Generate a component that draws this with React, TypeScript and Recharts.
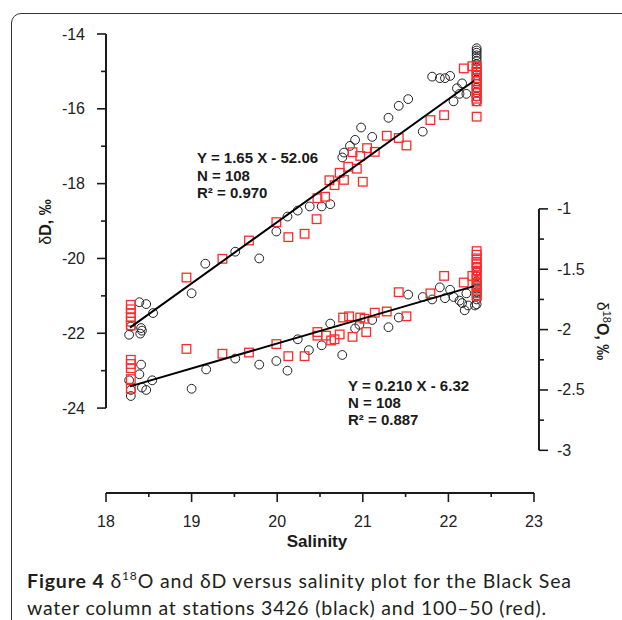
import { ScatterChart, Scatter, XAxis, YAxis, ReferenceLine } from "recharts";

// salinity axis and the two isotope axes
const salTicks = [18, 18.5, 19, 19.5, 20, 20.5, 21, 21.5, 22, 22.5, 23];
const dDTicks = [-24, -23, -22, -21, -20, -19, -18, -17, -16, -15, -14];
const dOTicks = [-3, -2.75, -2.5, -2.25, -2, -1.75, -1.5, -1.25, -1];

// δD vs salinity, station 3426 (black)
const dDBlack: [number, number][] = [
  [18.27, -22.04], [18.29, -21.82], [18.39, -21.17], [18.47, -21.22], [18.55, -21.46],
  [18.41, -21.86], [18.42, -21.93], [18.4, -22.01], [19.0, -20.93], [19.16, -20.14],
  [19.51, -19.82], [19.79, -20.0], [19.99, -19.28], [20.12, -18.88], [20.24, -18.72],
  [20.38, -18.61], [20.52, -18.61], [20.62, -18.55], [20.76, -17.3], [20.78, -17.17],
  [20.85, -16.99], [20.91, -16.83], [20.98, -16.5], [21.11, -16.75], [21.3, -16.24],
  [21.42, -15.92], [21.53, -15.74], [21.7, -16.61], [21.81, -15.14], [21.9, -15.18],
  [21.96, -15.18], [22.02, -15.12], [22.06, -15.8], [22.1, -15.45], [22.13, -15.6],
  [22.16, -15.32], [22.21, -15.6],
  [22.33, -14.38], [22.33, -14.44], [22.33, -14.5], [22.33, -14.57], [22.33, -14.64],
  [22.33, -14.72], [22.33, -14.81], [22.33, -14.9], [22.33, -15.0], [22.33, -15.1],
  [22.33, -15.21], [22.33, -15.33], [22.33, -15.44], [22.33, -15.56], [22.33, -15.67],
  [22.33, -15.8],
];

// δD vs salinity, station 100-50 (red)
const dDRed: [number, number][] = [
  [18.29, -21.24], [18.29, -21.36], [18.29, -21.46], [18.29, -21.57], [18.29, -21.69],
  [18.29, -21.79], [18.94, -20.51], [19.36, -20.01], [19.67, -19.52], [19.99, -19.03],
  [20.13, -19.43], [20.32, -19.34], [20.46, -18.95], [20.47, -18.39], [20.56, -18.35],
  [20.61, -17.91], [20.67, -18.04], [20.73, -17.71], [20.78, -17.9], [20.83, -17.55],
  [20.93, -17.6], [20.88, -17.16], [20.97, -17.26], [21.0, -17.95], [21.05, -17.05],
  [21.14, -17.15], [21.28, -16.72], [21.42, -16.78], [21.51, -16.98], [21.79, -16.3],
  [21.95, -16.17], [22.18, -14.92], [22.28, -14.86],
  [22.33, -14.87], [22.33, -14.95], [22.33, -15.03], [22.33, -15.1], [22.33, -15.18],
  [22.33, -15.26], [22.33, -15.34], [22.33, -15.42], [22.33, -15.5], [22.33, -15.58],
  [22.33, -15.66], [22.33, -15.73], [22.33, -15.8], [22.33, -16.21],
];

// δ18O vs salinity, station 3426 (black)
const dOBlack: [number, number][] = [
  [18.41, -2.29], [18.39, -2.37], [18.54, -2.42], [18.27, -2.42], [18.42, -2.48],
  [18.47, -2.5], [18.29, -2.55], [18.29, -2.5], [19.0, -2.49], [19.17, -2.33],
  [19.51, -2.24], [19.79, -2.29], [19.99, -2.26], [20.12, -2.34], [20.24, -2.08],
  [20.37, -2.17], [20.52, -2.13], [20.62, -1.95], [20.76, -2.21], [20.91, -1.99],
  [20.96, -1.96], [21.11, -1.92], [21.3, -1.98], [21.42, -1.9], [21.53, -1.71],
  [21.7, -1.73], [21.81, -1.75], [21.9, -1.65], [21.96, -1.74], [22.02, -1.67],
  [22.06, -1.73], [22.13, -1.76], [22.16, -1.78], [22.19, -1.84], [22.21, -1.7],
  [22.23, -1.8], [22.31, -1.8],
  [22.33, -1.48], [22.33, -1.52], [22.33, -1.56], [22.33, -1.6], [22.33, -1.63],
  [22.33, -1.66], [22.33, -1.69], [22.33, -1.72], [22.33, -1.75], [22.33, -1.79],
];

// δ18O vs salinity, station 100-50 (red)
const dORed: [number, number][] = [
  [18.29, -2.25], [18.29, -2.285], [18.29, -2.32], [18.29, -2.41], [18.29, -2.49],
  [18.94, -2.16], [19.36, -2.2], [19.67, -2.19], [19.99, -2.12], [20.13, -2.22],
  [20.32, -2.22], [20.47, -2.02], [20.47, -2.05], [20.57, -2.05], [20.63, -2.09],
  [20.67, -2.08], [20.73, -2.04], [20.88, -2.06], [20.77, -1.9], [20.84, -1.89],
  [20.97, -1.9], [21.02, -1.91], [21.04, -2.02], [21.14, -1.86], [21.28, -1.85],
  [21.51, -1.89], [21.42, -1.69], [21.79, -1.7], [21.95, -1.555], [22.18, -1.61],
  [22.28, -1.555],
  [22.33, -1.35], [22.33, -1.38], [22.33, -1.41], [22.33, -1.44], [22.33, -1.46],
  [22.33, -1.49], [22.33, -1.52], [22.33, -1.55], [22.33, -1.58], [22.33, -1.61],
  [22.33, -1.64], [22.33, -1.67], [22.33, -1.7], [22.33, -1.72],
];

// regression line end points
const dDFit: [number, number][] = [[18.28, -21.85], [22.3, -15.25]];
const dOFit: [number, number][] = [[18.28, -2.47], [22.3, -1.64]];

const toPts = (a: [number, number][]) => a.map(([s, v]) => ({ s, v }));

const AX = "#1b1b1b";
const RED = "#ff2b2b";
const FONT = "'Liberation Sans', Arial, sans-serif";
const RIGHT_SHIFT = 5;

const Circle = (p: any) => (
  <circle cx={p.cx} cy={p.cy} r={4.4} fill="none" stroke="#222" strokeWidth={1} />
);
const Square = (p: any) => (
  <rect x={p.cx - 4.3} y={p.cy - 4.3} width={8.6} height={8.6} fill="none" stroke={RED} strokeWidth={1.3} />
);
const NoMark = () => <g />;

function LeftTick({ x, y, payload }: any) {
  const v = payload.value;
  const major = v % 2 === 0;
  return (
    <g>
      <line x1={x} x2={x - (major ? 9 : 5)} y1={y} y2={y} stroke={AX} strokeWidth={1.6} />
      {major && (
        <text x={x - 21} y={y + 5.5} textAnchor="end" fontSize={16} fontFamily={FONT} fill="#222">
          {v}
        </text>
      )}
    </g>
  );
}

function RightTick({ x, y, payload }: any) {
  const v = payload.value;
  const major = (v * 2) % 1 === 0;
  const ax = x + RIGHT_SHIFT;
  return (
    <g>
      <line x1={ax} x2={ax + (major ? 9 : 5)} y1={y} y2={y} stroke={AX} strokeWidth={1.6} />
      {major && (
        <text x={ax + 18} y={y + 5.5} textAnchor="start" fontSize={16} fontFamily={FONT} fill="#222">
          {v}
        </text>
      )}
    </g>
  );
}

function SalTick({ x, y, payload }: any) {
  const v = payload.value;
  const major = v % 1 === 0;
  return (
    <g>
      <line x1={x} x2={x} y1={y} y2={y + (major ? 9 : 4)} stroke={AX} strokeWidth={1.6} />
      {major && (
        <text x={x} y={y + 34} textAnchor="middle" fontSize={16} fontFamily={FONT} fill="#222">
          {v}
        </text>
      )}
    </g>
  );
}

export default function App() {
  return (
    <div style={{ position: "absolute", left: 0, top: 0, width: 622, height: 620, overflow: "hidden", background: "#fff" }}>
      <div
        style={{
          position: "absolute", left: 11, top: 13, width: 700, height: 700,
          border: "1.5px solid #333", borderRadius: 10, boxSizing: "border-box",
        }}
      />
      <div style={{ position: "absolute", left: 0, top: 0 }}>
        <ScatterChart width={622} height={559} margin={{ top: 34, right: 0, bottom: 10, left: 0 }}>
          <XAxis
            type="number" dataKey="s" domain={[18, 23]} ticks={salTicks} interval={0}
            height={56} tickSize={0} tickMargin={0} tickLine={false}
            axisLine={{ stroke: AX, strokeWidth: 2 }} tick={<SalTick />}
          />
          <YAxis
            yAxisId="dD" orientation="left" type="number" dataKey="v" width={106}
            domain={[-26.27, -14]} allowDataOverflow ticks={dDTicks} interval={0}
            tickSize={0} tickMargin={0} tickLine={false} axisLine={false} tick={<LeftTick />}
          />
          <YAxis
            yAxisId="dO" orientation="right" type="number" dataKey="v" width={88}
            domain={[-3.3535, 0.4487]} allowDataOverflow ticks={dOTicks} interval={0}
            tickSize={0} tickMargin={0} tickLine={false} axisLine={false} tick={<RightTick />}
          />
          <ReferenceLine
            yAxisId="dD" segment={[{ x: 18, y: -24 }, { x: 18, y: -14 }]}
            stroke={AX} strokeWidth={2} ifOverflow="visible"
          />
          <ReferenceLine
            yAxisId="dO" segment={[{ x: 23.058, y: -3 }, { x: 23.058, y: -1 }]}
            stroke={AX} strokeWidth={2} ifOverflow="visible"
          />
          <Scatter yAxisId="dD" data={toPts(dDBlack)} shape={Circle} isAnimationActive={false} />
          <Scatter yAxisId="dO" data={toPts(dOBlack)} shape={Circle} isAnimationActive={false} />
          <Scatter yAxisId="dD" data={toPts(dDRed)} shape={Square} isAnimationActive={false} />
          <Scatter yAxisId="dO" data={toPts(dORed)} shape={Square} isAnimationActive={false} />
          <Scatter
            yAxisId="dD" data={toPts(dDFit)} shape={NoMark} line={{ stroke: "#000", strokeWidth: 2 }}
            isAnimationActive={false}
          />
          <Scatter
            yAxisId="dO" data={toPts(dOFit)} shape={NoMark} line={{ stroke: "#000", strokeWidth: 2 }}
            isAnimationActive={false}
          />
        </ScatterChart>
      </div>
      <svg width={622} height={620} style={{ position: "absolute", left: 0, top: 0, pointerEvents: "none" }}>
        <g fontFamily={FONT} fill="#1a1a1a">
          <text x={317} y={547} textAnchor="middle" fontSize={17} fontWeight="bold">Salinity</text>
          <text transform="translate(51,222) rotate(-90)" textAnchor="middle" fontSize={16}>
            <tspan>δ</tspan>
            <tspan fontWeight="bold">D, ‰</tspan>
          </text>
          <text transform="translate(597,331) rotate(90)" textAnchor="middle" fontSize={16}>
            <tspan>δ</tspan>
            <tspan fontSize={11} dy={-6}>18</tspan>
            <tspan fontWeight="bold" dy={6}>O, ‰</tspan>
          </text>
          <g fontSize={15} fontWeight="bold">
            <text x={197} y={163}>Y = 1.65 X - 52.06</text>
            <text x={197} y={180.5}>N = 108</text>
            <text x={197} y={197.5}>R² = 0.970</text>
            <text x={348} y={390.5}>Y = 0.210 X - 6.32</text>
            <text x={348} y={407.5}>N = 108</text>
            <text x={348} y={424.5}>R² = 0.887</text>
          </g>
        </g>
        <g fontFamily="Lato, 'Open Sans', sans-serif" fontSize={19.5} fill="#231f20">
          <text x={27} y={588} textLength={544} lengthAdjust="spacing">
            <tspan fontWeight="bold">Figure 4</tspan>
            <tspan> δ</tspan>
            <tspan fontSize={12} dy={-8}>18</tspan>
            <tspan dy={8}>O and δD versus salinity plot for the Black Sea</tspan>
          </text>
          <text x={27} y={615} textLength={519} lengthAdjust="spacing">
            water column at stations 3426 (black) and 100–50 (red).
          </text>
        </g>
      </svg>
    </div>
  );
}
